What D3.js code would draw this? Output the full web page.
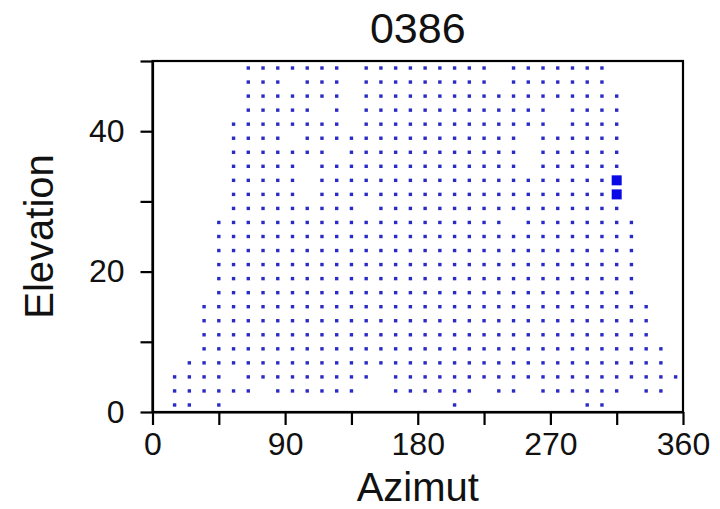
<!DOCTYPE html>
<html>
<head>
<meta charset="utf-8">
<script src="https://cdn.jsdelivr.net/npm/d3@7"></script>
<style>
  html, body { margin: 0; padding: 0; background: #ffffff; }
  svg { display: block; }
  text { font-family: "Liberation Sans", Arial, sans-serif; fill: #111; }
</style>
</head>
<body>
<svg id="chart" width="720" height="509"></svg>
<script>
// ---- data -------------------------------------------------------------
const chartTitle = "0386";
const xTitle = "Azimut";
const yTitle = "Elevation";

// sampling grid: azimuth columns (deg) and elevation rows (deg, top to bottom)
const azimuths = [5, 15, 25, 35, 45, 55, 65, 75, 85, 95, 105, 115,
                  125, 135, 145, 155, 165, 175, 185, 195, 205, 215, 225, 235,
                  245, 255, 265, 275, 285, 295, 305, 315, 325, 335, 345, 355];
const elevations = [49, 47, 45, 43, 41, 39, 37, 35, 33, 31, 29, 27, 25,
                    23, 21, 19, 17, 15, 13, 11, 9, 7, 5, 3, 1];

// visible sky cells, one row per elevation; character i <-> azimuths[i]
const visibility = [
  "......#######.#########.#######.....", // 49
  "......###.###.#########.#######.....", // 47
  "......#######.##################....", // 45
  "......#####.#.#############.####....", // 43
  ".....########.#############.####....", // 41
  ".....####.###############.######....", // 39
  ".....#######.############.######....", // 37
  ".....#####.##############.######....", // 35
  ".....#####.####################.....", // 33
  ".....#####.####################.....", // 31
  ".....#########.#################....", // 29
  "....####################.########...", // 27
  "....#############################...", // 25
  "....#############################...", // 23
  "....#############################...", // 21
  "....#############################...", // 19
  "....#############################...", // 17
  "...###############################..", // 15
  "...###############################..", // 13
  "...###############################..", // 11
  "...################################.", // 9
  "..#################################.", // 7
  ".####.#########.####################", // 5
  ".######.######..######.##.######.##.", // 3
  ".##.#...............#........##....."  // 1
];

// highlighted cells
const markedAz = [315, 315];
const markedEl = [33, 31];

// axis ticks
const xTicks = [0, 45, 90, 135, 180, 225, 270, 315, 360];
const xTickLabels = [0, 90, 180, 270, 360];
const yTicks = [0, 10, 20, 30, 40, 50];
const yTickLabels = [0, 20, 40];

// ---- layout ------------------------------------------------------------
const svg = d3.select("#chart");
const plot = { left: 152.5, right: 683, top: 61, bottom: 412 };

const x = d3.scaleLinear().domain([0, 360]).range([plot.left, plot.right]);
const y = d3.scaleLinear().domain([0, 50]).range([plot.bottom, plot.top]);

const cells = [];
elevations.forEach((el, r) => {
  const mask = visibility[r];
  azimuths.forEach((az, c) => {
    if (mask[c] === "#") cells.push({ az, el });
  });
});

// small grid markers
const dot = 3.4;
svg.append("g")
  .selectAll("rect")
  .data(cells)
  .join("rect")
  .attr("x", d => x(d.az) - dot / 2)
  .attr("y", d => y(d.el) - dot / 2)
  .attr("width", dot)
  .attr("height", dot)
  .attr("fill", "#2a2ac6");

// highlighted squares
const big = { w: 10, h: 10 };
svg.append("g")
  .selectAll("rect")
  .data(markedAz.map((az, i) => ({ az, el: markedEl[i] })))
  .join("rect")
  .attr("x", d => x(d.az) - big.w / 2)
  .attr("y", d => y(d.el) - big.h / 2)
  .attr("width", big.w)
  .attr("height", big.h)
  .attr("fill", "#0a0ae6");

// frame
svg.append("rect")
  .attr("x", plot.left)
  .attr("y", plot.top)
  .attr("width", plot.right - plot.left)
  .attr("height", plot.bottom - plot.top)
  .attr("fill", "none")
  .attr("stroke", "#000")
  .attr("stroke-width", 2.2);

// axes
const xAxis = d3.axisBottom(x)
  .tickValues(xTicks)
  .tickSize(13)
  .tickSizeOuter(0)
  .tickPadding(7)
  .tickFormat(d => xTickLabels.includes(d) ? String(d) : "");

const yAxis = d3.axisLeft(y)
  .tickValues(yTicks)
  .tickSize(12)
  .tickSizeOuter(0)
  .tickPadding(16)
  .tickFormat(d => yTickLabels.includes(d) ? String(d) : "");

const gx = svg.append("g")
  .attr("transform", `translate(0,${plot.bottom})`)
  .call(xAxis);
const gy = svg.append("g")
  .attr("transform", `translate(${plot.left},0)`)
  .call(yAxis);

[gx, gy].forEach(g => {
  g.select(".domain").attr("stroke", "#000").attr("stroke-width", 2.2);
  g.selectAll(".tick line").attr("stroke", "#000").attr("stroke-width", 2.2);
  g.selectAll(".tick text")
    .attr("fill", "#111")
    .style("font-family", "'Liberation Sans', Arial, sans-serif")
    .style("font-size", "32px");
});

// titles
svg.append("text")
  .attr("x", (plot.left + plot.right) / 2)
  .attr("y", 43)
  .attr("text-anchor", "middle")
  .style("font-size", "43px")
  .text(chartTitle);

svg.append("text")
  .attr("x", (plot.left + plot.right) / 2)
  .attr("y", 501)
  .attr("text-anchor", "middle")
  .style("font-size", "40px")
  .text(xTitle);

svg.append("text")
  .attr("transform", `translate(53,${(plot.top + plot.bottom) / 2}) rotate(-90)`)
  .attr("text-anchor", "middle")
  .style("font-size", "40px")
  .text(yTitle);
</script>
</body>
</html>
